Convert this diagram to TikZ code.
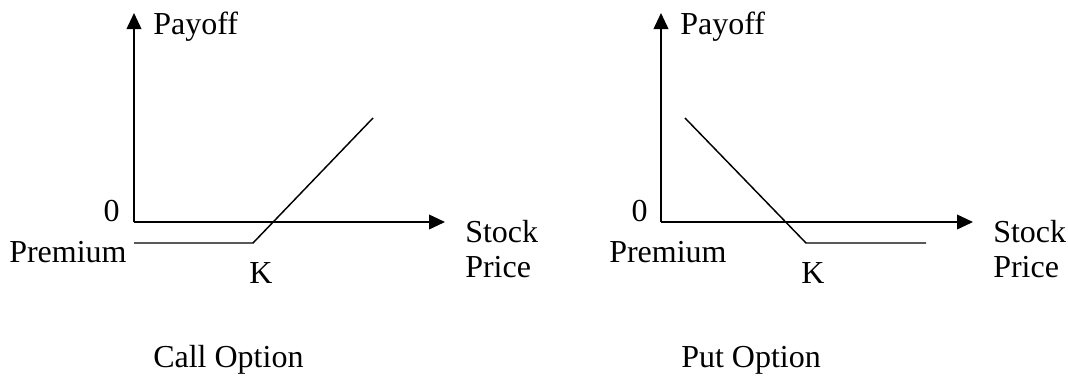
\documentclass[tikz,border=0pt]{standalone}
\usepackage{fontspec}
\setmainfont{Liberation Serif}
\usetikzlibrary{arrows.meta}
\begin{document}
\begin{tikzpicture}[x=0.75pt,y=-0.75pt,
  axis/.style={line width=1.3pt,-{Triangle[length=12pt,width=11pt]}},
  payoff/.style={line width=1.1pt},
  lbl/.style={inner sep=0pt,font=\fontsize{24}{35}\selectfont,anchor=base west},
  lblr/.style={inner sep=0pt,font=\fontsize{24}{35}\selectfont,anchor=base east}]
\useasboundingbox (0,0) rectangle (1068,376);

% ---- call option ----
\coordinate (cO) at (134,222);
\coordinate (cY) at (134,13);
\coordinate (cX) at (445,222);
\coordinate (cP) at (134,243);
\coordinate (cK) at (253,243);
\coordinate (cE) at (373,118);
\draw[axis] (cO) -- (cY);
\draw[axis] (cO) -- (cX);
\draw[payoff] (cP) -- (cK) -- (cE);
\node[lbl]  (cpay)  at (153,34)  {Payoff};
\node[lblr] (czero) at (120,221) {0};
\node[lbl]  (cprem) at (9,262)   {Premium};
\node[lbl]  (ck)    at (249,283) {K};
\node[lbl]  (cst)   at (465,242) {Stock};
\node[lbl]  (cpr)   at (465,277) {Price};
\node[lbl]  (ctit)  at (153,367) {Call Option};

% ---- put option ----
\coordinate (pO) at (661,222);
\coordinate (pY) at (661,13);
\coordinate (pX) at (973,222);
\coordinate (pS) at (685,118);
\coordinate (pK) at (806,243);
\coordinate (pE) at (926,243);
\draw[axis] (pO) -- (pY);
\draw[axis] (pO) -- (pX);
\draw[payoff] (pS) -- (pK) -- (pE);
\node[lbl]  (ppay)  at (680,34)  {Payoff};
\node[lblr] (pzero) at (648,221) {0};
\node[lbl]  (pprem) at (609,262) {Premium};
\node[lbl]  (pk)    at (801,283) {K};
\node[lbl]  (pst)   at (993,242) {Stock};
\node[lbl]  (ppr)   at (993,277) {Price};
\node[lbl]  (ptit)  at (681,367) {Put Option};
\end{tikzpicture}
\end{document}
